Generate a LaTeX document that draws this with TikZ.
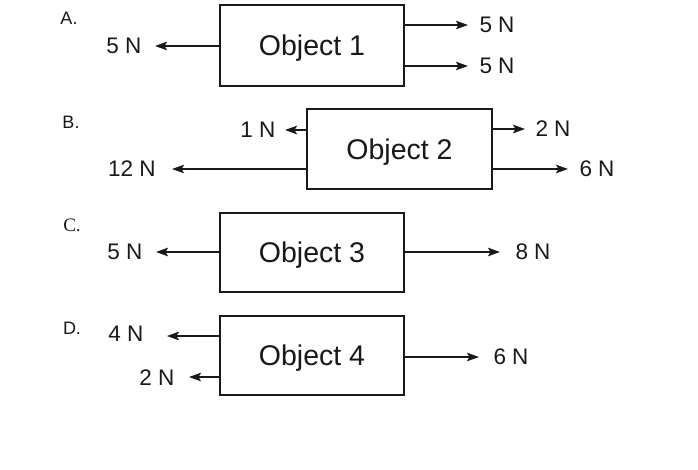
\documentclass[tikz,border=0pt]{standalone}
\usepackage{fontspec}
\setmainfont{Liberation Sans}
\newfontfamily\serifletter{Liberation Serif}
\usetikzlibrary{arrows.meta}
\tikzset{
  objbox/.style={draw=black!90, line width=2pt, minimum width=184pt, minimum height=80pt, inner sep=0pt, text depth=0pt, font=\fontsize{28.5}{30}\selectfont, text=black!90},
  arr/.style={draw=black!90, line width=1.8pt, -{Stealth[length=12pt,width=8.5pt,inset=2.5pt]}},
  lbl/.style={inner sep=0pt, font=\fontsize{22.5}{24}\selectfont, text=black!90},
  letter/.style={inner sep=0pt, font=\fontsize{18}{20}\selectfont, text=black!90}
}
\begin{document}
\begin{tikzpicture}[x=1pt,y=-1pt]
\useasboundingbox[fill=white] (0,0) rectangle (698,469);

% A
\node[letter] (la) at (69,18) {A.};
\node[objbox, minimum width=184pt, minimum height=81pt] (o1) at (312,45.5) {Object 1};
\coordinate (a1) at (155,46);
\coordinate (a2) at (468,25);
\coordinate (a3) at (468,66);
\draw[arr] (o1.west |- a1) -- (a1);
\draw[arr] (o1.east |- a2) -- (a2);
\draw[arr] (o1.east |- a3) -- (a3);
\node[lbl] (ta1) at (124,46) {5 N};
\node[lbl] (ta2) at (497,25) {5 N};
\node[lbl] (ta3) at (497,66) {5 N};

% B
\node[letter] (lb) at (71,122) {B.};
\node[objbox, minimum width=185pt] (o2) at (399.5,149) {Object 2};
\coordinate (b1) at (285,130);
\coordinate (b2) at (172,169);
\coordinate (b3) at (525,129);
\coordinate (b4) at (568,169);
\draw[arr] (o2.west |- b1) -- (b1);
\draw[arr] (o2.west |- b2) -- (b2);
\draw[arr] (o2.east |- b3) -- (b3);
\draw[arr] (o2.east |- b4) -- (b4);
\node[lbl] (tb1) at (258,130) {1 N};
\node[lbl] (tb2) at (132,169) {12 N};
\node[lbl] (tb3) at (553,129) {2 N};
\node[lbl] (tb4) at (597,169) {6 N};

% C
\node[letter, font=\serifletter\fontsize{19}{21}\selectfont] (lc) at (72,225) {C.};
\node[objbox, minimum height=79pt] (o3) at (312,252.5) {Object 3};
\coordinate (c1) at (156,252);
\coordinate (c2) at (500,252);
\draw[arr] (o3.west |- c1) -- (c1);
\draw[arr] (o3.east |- c2) -- (c2);
\node[lbl] (tc1) at (125,252) {5 N};
\node[lbl] (tc2) at (533,252) {8 N};

% D
\node[letter] (ld) at (72,328) {D.};
\node[objbox, minimum height=79pt] (o4) at (312,355.5) {Object 4};
\coordinate (d1) at (167,336);
\coordinate (d2) at (189,377);
\coordinate (d3) at (479,357);
\draw[arr] (o4.west |- d1) -- (d1);
\draw[arr] (o4.west |- d2) -- (d2);
\draw[arr] (o4.east |- d3) -- (d3);
\node[lbl] (td1) at (126,334) {4 N};
\node[lbl] (td2) at (157,378) {2 N};
\node[lbl] (td3) at (511,357) {6 N};
\end{tikzpicture}
\end{document}
